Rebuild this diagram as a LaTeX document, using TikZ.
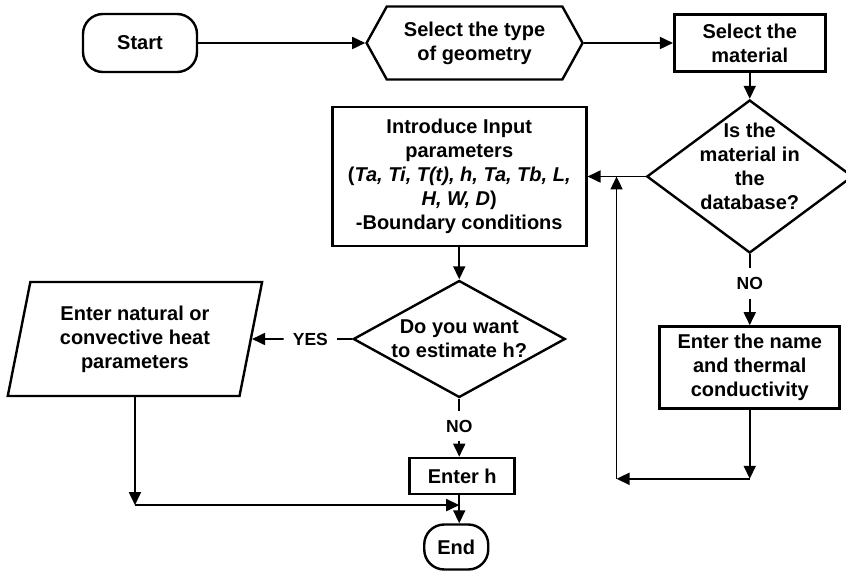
\documentclass[tikz,border=0pt]{standalone}
\usepackage{fontspec}
\setmainfont{Liberation Sans}
\usetikzlibrary{shapes,arrows.meta,positioning,calc}

\begin{document}
\begin{tikzpicture}[
    x=1pt, y=1pt,
    every node/.style={font=\fontsize{20}{24}\selectfont\bfseries, align=center},
    terminal/.style={rectangle, rounded corners=20pt, draw=black, line width=2.4pt, inner sep=2pt},
    prep/.style={signal, signal to=west and east, signal pointer angle=122, draw=black, line width=2.4pt, minimum width=216pt, minimum height=73pt, inner sep=2pt},
    process/.style={rectangle, draw=black, line width=2.6pt, inner sep=2pt},
    decision/.style={diamond, draw=black, line width=2.4pt, inner sep=-10pt},
    io/.style={trapezium, trapezium left angle=77, trapezium right angle=103, trapezium stretches=true, draw=black, line width=2.4pt, minimum width=255pt, minimum height=114pt},
    arrow/.style={-{Triangle[length=13pt,width=12pt]}, line width=1.8pt},
    link/.style={line width=1.8pt},
    branch/.style={font=\fontsize{17.5}{20}\selectfont\bfseries, inner sep=9pt}
]
    \useasboundingbox (0,0) rectangle (846,-572);

    % Top row
    \node[terminal, minimum width=114pt, minimum height=58pt] (start) at (140,-43) {Start};
    \node[prep, right=167pt of start] (geometry) {Select the type\\of geometry};
    \node[process, minimum width=151pt, minimum height=57pt, right=89pt of geometry] (material) {Select the\\material};

    % Material check (right column)
    \node[decision, aspect=1.35, text depth=20pt, minimum width=206pt, minimum height=153pt, below=26pt of material] (indb) {Is the\\material in\\the\\database?};
    \node[branch, below=14pt of indb] (noA) {NO};
    \node[process, minimum width=180pt, minimum height=82pt, below=71pt of indb] (newmat) {Enter the name\\and thermal\\conductivity};

    % Input parameters (middle column)
    \node[process, minimum width=254pt, minimum height=139pt, left=58pt of indb] (input) {Introduce Input\\parameters\\(\textit{Ta, Ti, T(t), h, Ta, Tb, L,}\\\textit{H, W, D})\\-Boundary conditions};
    \node[decision, aspect=1.81, minimum width=212pt, minimum height=117pt, below=32pt of input] (estimate) {Do you want\\to estimate h?};
    \node[branch, below=12pt of estimate] (noB) {NO};
    \node[process, minimum width=105pt, minimum height=36pt, below=58pt of estimate, xshift=3pt] (enterh) {Enter h};
    \node[terminal, minimum width=64pt, minimum height=45pt, below=28pt of enterh, xshift=-6pt] (end) {End};

    % Heat parameters (left column)
    \node[branch, left=15pt of estimate] (yes) {YES};
    \node[io, left=100pt of estimate] (heatpar) {Enter natural or\\convective heat\\parameters};

    % Corner points of the return lines
    \coordinate (midA) at ($(enterh.south)!0.35!(end.north)$);
    \coordinate (joinA) at (noB |- midA);
    \coordinate (cornerA) at (heatpar.south |- joinA);
    \coordinate (joinB) at ($(input.east)!0.5!(indb.west)$);
    \coordinate[below=69pt of newmat.south] (cornerB);
    \coordinate (cornerC) at (joinB |- cornerB);

    % Main flow
    \draw[arrow] (start) -- (geometry);
    \draw[arrow] (geometry) -- (material);
    \draw[arrow] (material) -- (indb);
    \draw[arrow] (indb) -- (input);
    \draw[link] (indb) -- (noA);
    \draw[arrow] (noA) -- (newmat);
    \draw[arrow] (newmat) -- (cornerB);
    \draw[arrow] (cornerB) -- (cornerC);
    \draw[arrow] (cornerC) -- (joinB);
    \draw[arrow] (input) -- (estimate);
    \draw[link] (estimate) -- (yes);
    \draw[arrow] (yes) -- (heatpar);
    \draw[link] (estimate) -- (noB);
    \draw[arrow] (noB) -- (noB |- enterh.north);
    \draw[arrow] (noB |- enterh.south) -- (noB |- end.north);
    \draw[arrow] (heatpar) -- (cornerA);
    \draw[arrow] (cornerA) -- (joinA);

\end{tikzpicture}
\end{document}
